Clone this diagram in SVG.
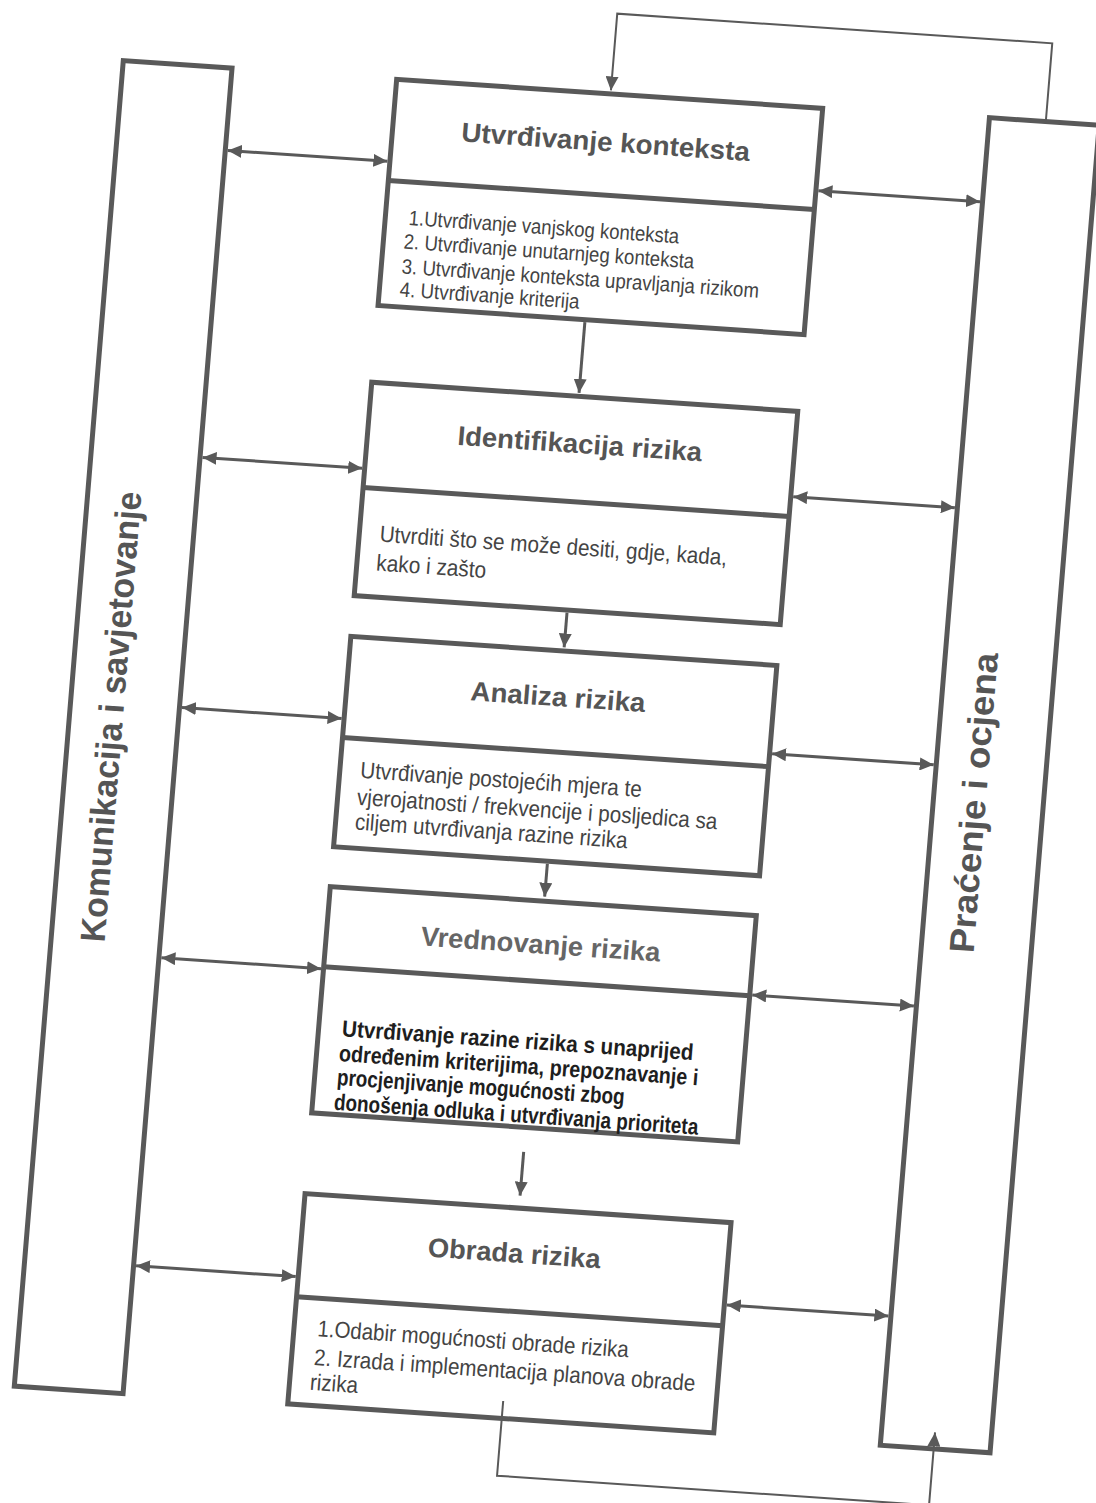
<svg xmlns="http://www.w3.org/2000/svg" width="1096" height="1503" viewBox="0 0 1096 1503">
<style>
.frame{fill:#fff;stroke:#595959;stroke-width:5}
.div{stroke:#595959;stroke-width:5}
.ttl{font-family:"Liberation Sans",Arial,sans-serif;font-weight:bold;font-size:27px;fill:#555;text-anchor:middle}
.body{font-family:"Liberation Sans",Arial,sans-serif;font-size:23px;fill:#444}
.bodyb{font-family:"Liberation Sans",Arial,sans-serif;font-size:23px;font-weight:bold;fill:#1e1e1e}
.side{font-family:"Liberation Sans",Arial,sans-serif;font-weight:bold;font-size:35px;fill:#555;text-anchor:middle}
.arr{stroke:#595959;stroke-width:3;fill:none}
.fb{stroke:#595959;stroke-width:2;fill:none}
</style>
<defs>
<marker id="ah" viewBox="0 0 14 13" refX="14" refY="6.5" markerWidth="14" markerHeight="13" markerUnits="userSpaceOnUse" orient="auto-start-reverse">
<path d="M0,0 L14,6.5 L0,13 z" fill="#595959"/>
</marker>
</defs>
<rect width="1096" height="1503" fill="#fff"/>
<g transform="matrix(0.99768 0.06802 -0.08194 0.99664 121 58)">
<g id="connectors">
<line class="arr" x1="114" y1="85" x2="274" y2="85" marker-start="url(#ah)" marker-end="url(#ah)"/>
<line class="arr" x1="114" y1="393" x2="274" y2="393" marker-start="url(#ah)" marker-end="url(#ah)"/>
<line class="arr" x1="114" y1="644" x2="274" y2="644" marker-start="url(#ah)" marker-end="url(#ah)"/>
<line class="arr" x1="114" y1="895" x2="274" y2="895" marker-start="url(#ah)" marker-end="url(#ah)"/>
<line class="arr" x1="114" y1="1204" x2="274" y2="1204" marker-start="url(#ah)" marker-end="url(#ah)"/>
<line class="arr" x1="706" y1="85" x2="868" y2="85" marker-start="url(#ah)" marker-end="url(#ah)"/>
<line class="arr" x1="706" y1="392" x2="868" y2="392" marker-start="url(#ah)" marker-end="url(#ah)"/>
<line class="arr" x1="706" y1="650" x2="868" y2="650" marker-start="url(#ah)" marker-end="url(#ah)"/>
<line class="arr" x1="706" y1="892" x2="868" y2="892" marker-start="url(#ah)" marker-end="url(#ah)"/>
<line class="arr" x1="706" y1="1203" x2="868" y2="1203" marker-start="url(#ah)" marker-end="url(#ah)"/>
<line class="arr" x1="484" y1="232" x2="484" y2="303" marker-end="url(#ah)"/>
<line class="arr" x1="490" y1="523" x2="490" y2="558" marker-end="url(#ah)"/>
<line class="arr" x1="491" y1="775" x2="491" y2="808" marker-end="url(#ah)"/>
<line class="arr" x1="491" y1="1064" x2="491" y2="1108" marker-end="url(#ah)"/>
<polyline class="fb" points="927,0 927,-78 491,-78 491,-1" marker-end="url(#ah)"/>
<polyline class="fb" points="491,1314 491,1389 924,1389 924,1316" marker-end="url(#ah)"/>
</g>
<g id="komunikacija">
<rect class="frame" x="2.5" y="2.5" width="109" height="1330" fill="none" style="fill:none"/>
<text class="side" transform="translate(56,658) rotate(-90)" textLength="452" lengthAdjust="spacingAndGlyphs">Komunikacija i savjetovanje</text>
</g>
<g id="pracenje">
<rect class="frame" x="870.5" y="0.5" width="110" height="1332" style="fill:none"/>
<text class="side" transform="translate(923,685) rotate(-90)" textLength="301" lengthAdjust="spacingAndGlyphs">Praćenje i ocjena</text>
</g>
<g id="box1">
<rect class="frame" x="276.5" y="2.5" width="427" height="227"/>
<line class="div" x1="276.5" y1="104" x2="703.5" y2="104"/>
<text class="ttl" x="490" y="60" textLength="289" lengthAdjust="spacingAndGlyphs">Utvrđivanje konteksta</text>
<text class="body" style="font-size:21px" x="300" y="147" textLength="271" lengthAdjust="spacingAndGlyphs">1.Utvrđivanje vanjskog konteksta</text>
<text class="body" style="font-size:21px" x="297" y="171" textLength="291" lengthAdjust="spacingAndGlyphs">2. Utvrđivanje unutarnjeg konteksta</text>
<text class="body" style="font-size:21px" x="297" y="196" textLength="358" lengthAdjust="spacingAndGlyphs">3. Utvrđivanje konteksta upravljanja rizikom</text>
<text class="body" style="font-size:21px" x="297" y="219" textLength="180" lengthAdjust="spacingAndGlyphs">4. Utvrđivanje kriterija</text>
</g>
<g id="box2">
<rect class="frame" x="276.5" y="306.5" width="427" height="214"/>
<line class="div" x1="276.5" y1="412" x2="703.5" y2="412"/>
<text class="ttl" x="489" y="363" textLength="245" lengthAdjust="spacingAndGlyphs">Identifikacija rizika</text>
<text class="body" x="297" y="465" textLength="348" lengthAdjust="spacingAndGlyphs">Utvrditi što se može desiti, gdje, kada,</text>
<text class="body" x="296" y="494" textLength="110" lengthAdjust="spacingAndGlyphs">kako i zašto</text>
</g>
<g id="box3">
<rect class="frame" x="276.5" y="561.5" width="427" height="211"/>
<line class="div" x1="276.5" y1="663" x2="703.5" y2="663"/>
<text class="ttl" x="488" y="617" textLength="175" lengthAdjust="spacingAndGlyphs">Analiza rizika</text>
<text class="body" x="297" y="702" textLength="282" lengthAdjust="spacingAndGlyphs">Utvrđivanje postojećih mjera te</text>
<text class="body" x="296" y="729" textLength="361" lengthAdjust="spacingAndGlyphs">vjerojatnosti / frekvencije i posljedica sa</text>
<text class="body" x="296" y="754" textLength="273" lengthAdjust="spacingAndGlyphs">ciljem utvrđivanja razine rizika</text>
</g>
<g id="box4">
<rect class="frame" x="276.5" y="812.5" width="427" height="227"/>
<line class="div" x1="276.5" y1="893" x2="703.5" y2="893"/>
<text class="ttl" x="491" y="865" textLength="240" lengthAdjust="spacingAndGlyphs" style="fill:#666">Vrednovanje rizika</text>
<text class="bodyb" x="300" y="961" textLength="352" lengthAdjust="spacingAndGlyphs">Utvrđivanje razine rizika s unaprijed</text>
<text class="bodyb" x="299" y="986" textLength="360" lengthAdjust="spacingAndGlyphs">određenim kriterijima, prepoznavanje i</text>
<text class="bodyb" x="299" y="1010" textLength="288" lengthAdjust="spacingAndGlyphs">procjenjivanje mogućnosti zbog</text>
<text class="bodyb" x="298" y="1035" textLength="365" lengthAdjust="spacingAndGlyphs">donošenja odluka i utvrđivanja prioriteta</text>
</g>
<g id="box5">
<rect class="frame" x="276.5" y="1120.5" width="427" height="211"/>
<line class="div" x1="276.5" y1="1224" x2="703.5" y2="1224"/>
<text class="ttl" x="490" y="1175" textLength="173" lengthAdjust="spacingAndGlyphs">Obrada rizika</text>
<text class="body" x="300" y="1262" textLength="312" lengthAdjust="spacingAndGlyphs">1.Odabir mogućnosti obrade rizika</text>
<text class="body" x="299" y="1291" textLength="382" lengthAdjust="spacingAndGlyphs">2. Izrada i implementacija planova obrade</text>
<text class="body" x="297" y="1316" textLength="48" lengthAdjust="spacingAndGlyphs">rizika</text>
</g>
<line class="fb" x1="491" y1="1314" x2="491" y2="1332"/>
</g>
</svg>
